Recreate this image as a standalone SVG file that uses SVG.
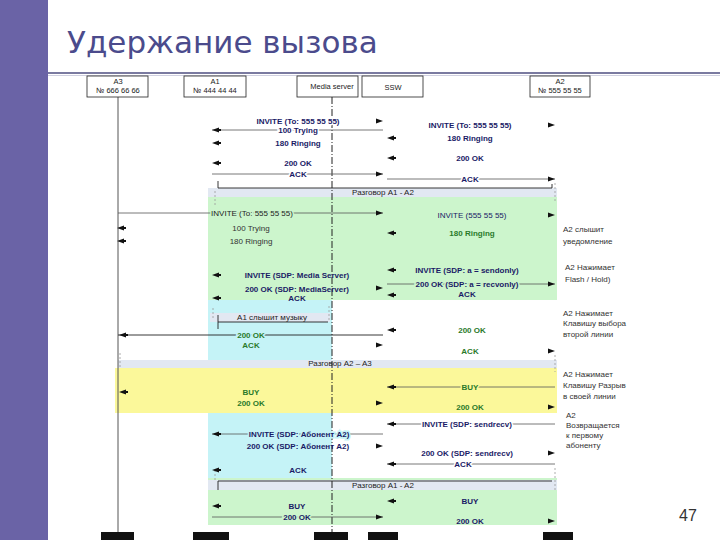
<svg xmlns="http://www.w3.org/2000/svg" xmlns:xlink="http://www.w3.org/1999/xlink" width="720" height="540" viewBox="0 0 720 540">
<style>
.box{fill:#fff;stroke:#222;stroke-width:0.8}
.ht{font-family:"Liberation Sans",Arial,sans-serif;font-size:7.5px;fill:#222;text-anchor:middle}
.m{font-family:"Liberation Sans",Arial,sans-serif;font-size:8px;font-weight:bold;fill:#1a1a66;text-anchor:middle}
.g{fill:#2a7a2a}
.n{font-family:"Liberation Sans",Arial,sans-serif;font-size:8px;fill:#333}
.b{font-family:"Liberation Sans",Arial,sans-serif;font-size:8px;fill:#222;text-anchor:middle}
.ln{stroke:#555;stroke-width:0.8;fill:none}
.br{stroke:#222;stroke-width:0.9;fill:none}
.tk{stroke:#999;stroke-width:0.8;stroke-dasharray:2,2;fill:none}
.ah{fill:#111}
.bg{stroke:#fff;stroke-width:3;paint-order:stroke}
</style>
<defs>
<path id="ar" d="M-7,-2.5 L0,0 L-7,2.5 Z"/>
<path id="al" d="M7,-2.5 L0,0 L7,2.5 Z M7,-1 L9,-1 L9,1 L7,1 Z"/>
</defs>
<rect x="0" y="0" width="720" height="540" fill="#fff"/>
<rect x="0" y="0" width="48" height="540" fill="#6a63a6"/>
<text x="67" y="53" font-family="'DejaVu Sans',sans-serif" font-size="31" fill="#4b4b8c">Удержание вызова</text>
<line x1="48" y1="73" x2="720" y2="73" stroke="#7a7aa0" stroke-width="2"/>
<line x1="48" y1="75.5" x2="720" y2="75.5" stroke="#d0d0e0" stroke-width="1"/>

<g id="areas">
<rect x="208" y="188" width="349" height="112" fill="#ccf5cc"/>
<rect x="208" y="188" width="349" height="9" fill="#e2e8f2"/>
<rect x="208" y="300" width="124" height="178" fill="#c5f3f7"/>
<rect x="210" y="313" width="120" height="9" fill="#e2e8f2"/>
<rect x="118" y="360" width="439" height="8" fill="#e2e8f2"/>
<rect x="115" y="368" width="442" height="45" fill="#fbf89a"/>
<rect x="208" y="478" width="349" height="47" fill="#ccf5cc"/>
<rect x="208" y="480" width="349" height="10" fill="#e2e8f2"/>
</g>

<g id="lifelines">
<line x1="118" y1="97" x2="118" y2="532" stroke="#555" stroke-width="1"/>
<line x1="332" y1="97" x2="332" y2="532" stroke="#222" stroke-width="1" stroke-dasharray="7,2,1,2"/>
<rect x="101" y="532" width="33" height="8" fill="#111"/>
<rect x="193" y="532" width="36" height="8" fill="#111"/>
<rect x="314" y="532" width="34" height="8" fill="#111"/>
<rect x="368" y="532" width="30" height="8" fill="#111"/>
<rect x="543" y="532" width="30" height="8" fill="#111"/>
</g>

<g id="A3"><rect class="box" x="87" y="76" width="61" height="21"/><text class="ht" x="118" y="84">A3</text><text class="ht" x="118" y="93">№ 666 66 66</text></g>
<g id="A1"><rect class="box" x="184" y="76" width="62" height="21"/><text class="ht" x="215" y="84">A1</text><text class="ht" x="215" y="93">№ 444 44 44</text></g>
<g id="MediaServer"><rect class="box" x="297" y="76" width="61" height="21"/><text class="ht" x="332" y="89">Media server</text></g>
<g id="SSW"><rect class="box" x="362" y="76" width="61" height="21"/><text class="ht" x="393" y="90">SSW</text></g>
<g id="A2"><rect class="box" x="530" y="76" width="60" height="21"/><text class="ht" x="560" y="84">A2</text><text class="ht" x="560" y="93">№ 555 55 55</text></g>

<g id="connectors">
<line class="ln" x1="212" y1="130" x2="383" y2="130"/>
<line class="ln" x1="212" y1="174" x2="383" y2="174"/>
<line class="ln" x1="387" y1="179" x2="555" y2="179"/>
<line class="ln" x1="118" y1="213" x2="383" y2="213"/>
<line class="ln" x1="387" y1="284" x2="555" y2="284"/>
<line class="br" x1="118" y1="335" x2="383" y2="335"/>
<line class="ln" x1="387" y1="387" x2="555" y2="387"/>
<line class="ln" x1="212" y1="434" x2="383" y2="434"/>
<line class="ln" x1="387" y1="424" x2="555" y2="424"/>
<line class="ln" x1="387" y1="464" x2="555" y2="464"/>
<line class="ln" x1="212" y1="517" x2="383" y2="517"/>
<path class="br" d="M218,181 V188 H552 V184"/>
<line class="tk" x1="215" y1="191" x2="215" y2="205"/>
<line class="tk" x1="555" y1="183" x2="555" y2="202"/>
<path class="br" d="M218,315 V329 M218,322 H328"/>
<line class="tk" x1="213" y1="308" x2="213" y2="320"/>
<line class="tk" x1="329" y1="306" x2="329" y2="322"/>
<line class="tk" x1="120" y1="353" x2="120" y2="368"/>
<line class="tk" x1="555" y1="355" x2="555" y2="372"/>
<path class="br" d="M218,490 V481 H552"/>
<line class="tk" x1="215" y1="470" x2="215" y2="480"/>
<line class="tk" x1="555" y1="468" x2="555" y2="490"/>
<use href="#ar" x="383" y="121" class="ah"/>
<use href="#al" x="212" y="130" class="ah"/>
<use href="#al" x="212" y="143" class="ah"/>
<use href="#al" x="212" y="163" class="ah"/>
<use href="#ar" x="383" y="174" class="ah"/>
<use href="#ar" x="555" y="125" class="ah"/>
<use href="#al" x="387" y="138" class="ah"/>
<use href="#al" x="387" y="158" class="ah"/>
<use href="#ar" x="555" y="179" class="ah"/>
<use href="#ar" x="383" y="213" class="ah"/>
<use href="#ar" x="555" y="215" class="ah"/>
<use href="#al" x="117" y="228" class="ah"/>
<use href="#al" x="117" y="241" class="ah"/>
<use href="#al" x="387" y="233" class="ah"/>
<use href="#al" x="212" y="275" class="ah"/>
<use href="#al" x="387" y="270" class="ah"/>
<use href="#ar" x="383" y="288" class="ah"/>
<use href="#ar" x="555" y="284" class="ah"/>
<use href="#al" x="212" y="298" class="ah"/>
<use href="#al" x="387" y="295" class="ah"/>
<use href="#al" x="119" y="335" class="ah"/>
<use href="#al" x="387" y="330" class="ah"/>
<use href="#ar" x="383" y="345" class="ah"/>
<use href="#ar" x="555" y="351" class="ah"/>
<use href="#al" x="119" y="392" class="ah"/>
<use href="#al" x="387" y="387" class="ah"/>
<use href="#ar" x="383" y="403" class="ah"/>
<use href="#ar" x="555" y="407" class="ah"/>
<use href="#al" x="212" y="434" class="ah"/>
<use href="#al" x="387" y="424" class="ah"/>
<use href="#ar" x="383" y="446" class="ah"/>
<use href="#ar" x="555" y="453" class="ah"/>
<use href="#al" x="212" y="470" class="ah"/>
<use href="#al" x="387" y="464" class="ah"/>
<use href="#al" x="212" y="506" class="ah"/>
<use href="#al" x="387" y="501" class="ah"/>
<use href="#ar" x="383" y="517" class="ah"/>
<use href="#ar" x="555" y="521" class="ah"/>
</g>

<g id="labels">
<text class="m bg" x="298" y="124">INVITE (To: 555 55 55)</text>
<text class="m bg" x="298" y="133">100 Trying</text>
<text class="m" x="298" y="146">180 Ringing</text>
<text class="m" x="298" y="166">200 OK</text>
<text class="m bg" x="298" y="177">ACK</text>
<text class="m" x="470" y="128">INVITE (To: 555 55 55)</text>
<text class="m" x="470" y="141">180 Ringing</text>
<text class="m" x="470" y="161">200 OK</text>
<text class="m bg" x="470" y="182">ACK</text>
<text class="b" x="383" y="195">Разговор A1 - A2</text>

<text class="m" x="252" y="216" style="fill:#222;font-weight:normal;stroke:#ccf5cc;stroke-width:3;paint-order:stroke">INVITE (To: 555 55 55)</text>
<text class="m" x="472" y="218" style="fill:#1a1a66;font-weight:normal">INVITE (555 55 55)</text>
<text class="m" x="251" y="231" style="fill:#333;font-weight:normal">100 Trying</text>
<text class="m" x="251" y="244" style="fill:#333;font-weight:normal">180 Ringing</text>
<text class="m g" x="472" y="236">180 Ringing</text>
<text class="m" x="297" y="278">INVITE (SDP: Media Server)</text>
<text class="m" x="467" y="273">INVITE (SDP: a = sendonly)</text>
<text class="m" x="297" y="292">200 OK (SDP: MediaServer)</text>
<text class="m" x="467" y="287" style="stroke:#ccf5cc;stroke-width:3;paint-order:stroke">200 OK (SDP: a = recvonly)</text>
<text class="m" x="297" y="301">ACK</text>
<text class="m" x="467" y="297">ACK</text>

<text class="b" x="272" y="320">A1 слышит музыку</text>
<text class="m g" x="251" y="338" style="stroke:#c5f3f7;stroke-width:3;paint-order:stroke">200 OK</text>
<text class="m g" x="251" y="348">ACK</text>
<text class="m g" x="472" y="333">200 OK</text>
<text class="m g" x="470" y="354">ACK</text>
<text class="b" x="340" y="366">Разговор A2 – A3</text>
<text class="m g" x="251" y="395">BUY</text>
<text class="m g" x="251" y="406">200 OK</text>
<text class="m g" x="470" y="390" style="stroke:#fbf89a;stroke-width:3;paint-order:stroke">BUY</text>
<text class="m g" x="470" y="410">200 OK</text>

<text class="m" x="299" y="437" style="stroke:#c5f3f7;stroke-width:3;paint-order:stroke">INVITE (SDP: Абонент A2)</text>
<text class="m" x="298" y="449">200 OK (SDP: Абонент A2)</text>
<text class="m" x="298" y="473">ACK</text>
<text class="m bg" x="467" y="427">INVITE (SDP: sendrecv)</text>
<text class="m" x="467" y="456">200 OK (SDP: sendrecv)</text>
<text class="m bg" x="463" y="467">ACK</text>
<text class="b" x="383" y="488">Разговор A1 - A2</text>
<text class="m" x="297" y="509">BUY</text>
<text class="m" x="297" y="520" style="stroke:#ccf5cc;stroke-width:3;paint-order:stroke">200 OK</text>
<text class="m" x="470" y="504">BUY</text>
<text class="m" x="470" y="524">200 OK</text>
</g>

<g id="notes">
<text class="n" x="563" y="232">A2 слышит</text>
<text class="n" x="563" y="244">уведомление</text>
<text class="n" x="565" y="270">A2 Нажимает</text>
<text class="n" x="565" y="282">Flash / Hold)</text>
<text class="n" x="563" y="316">A2 Нажимает</text>
<text class="n" x="563" y="326">Клавишу выбора</text>
<text class="n" x="563" y="337">второй линии</text>
<text class="n" x="563" y="377">A2 Нажимает</text>
<text class="n" x="563" y="388">Клавишу Разрыв</text>
<text class="n" x="563" y="399">в своей линии</text>
<text class="n" x="566" y="418">A2</text>
<text class="n" x="566" y="428">Возвращается</text>
<text class="n" x="566" y="438">к первому</text>
<text class="n" x="566" y="448">абоненту</text>
</g>
<text x="679" y="521" font-family="'Liberation Sans',Arial,sans-serif" font-size="16" fill="#333">47</text>
</svg>
